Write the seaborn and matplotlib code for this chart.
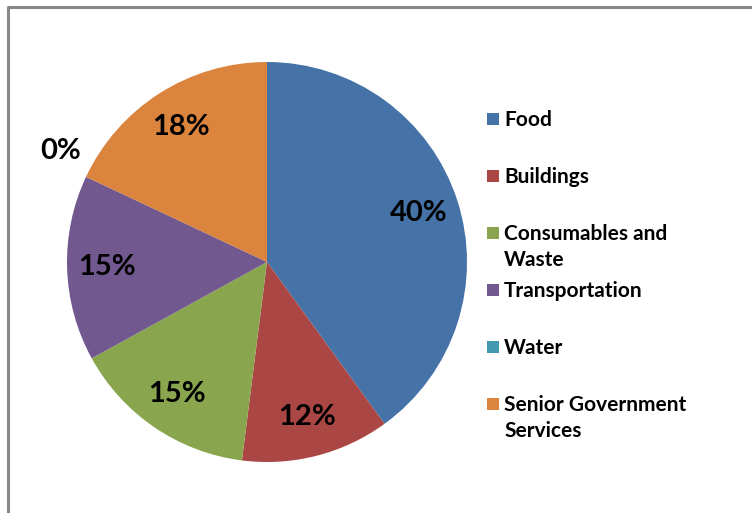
import numpy as np
import matplotlib
matplotlib.use("Agg")
import matplotlib.pyplot as plt
import matplotlib.patches as mpatches
from matplotlib.lines import Line2D
import seaborn as sns

# Share of the footprint by sector (%)
categories = ["Food", "Buildings", "Consumables and\nWaste", "Transportation",
              "Water", "Senior Government\nServices"]
shares = [40, 12, 15, 15, 0, 18]
colors = ["#4572A7", "#AA4643", "#89A54E", "#71588F", "#4198AF", "#DB843D"]

sns.set_theme(style="white")
plt.rcParams["font.family"] = ["Lato", "DejaVu Sans"]

W, H = 752, 513
fig = plt.figure(figsize=(W / 100, H / 100), dpi=100)
fig.patch.set_facecolor("white")

# Pie: centre (267, 262) px, radius 200 px
cx, cy, r = 267, 262, 200
ax = fig.add_axes([(cx - r) / W, (H - cy - r) / H, 2 * r / W, 2 * r / H])
palette = sns.color_palette(colors)
wedges, texts, autotexts = ax.pie(
    shares, colors=palette, startangle=90, counterclock=False,
    autopct=lambda p: f"{p:.0f}%", pctdistance=0.8, radius=1,
    wedgeprops=dict(linewidth=0),
    textprops=dict(fontsize=21, fontweight="bold", color="black"))
ax.set_xlim(-1, 1)
ax.set_ylim(-1, 1)
ax.set_aspect("equal")
ax.axis("off")

# Zero-size slices get their label pushed outside the pie
for w, t, v in zip(wedges, autotexts, shares):
    if v == 0:
        ang = np.deg2rad(w.theta1 - 3)
        t.set_position((1.17 * np.cos(ang), 1.17 * np.sin(ang)))

# Legend entries, one every 57 px, wrapped labels flow below
for i, (lab, col) in enumerate(zip(categories, palette)):
    y = 119 + 57 * i
    fig.patches.append(mpatches.Rectangle(
        (487 / W, (H - y - 6) / H), 12 / W, 12 / H,
        transform=fig.transFigure, facecolor=col, edgecolor="none"))
    fig.text(504 / W, (H - y + 9) / H, lab, fontsize=15, fontweight="bold",
             color="black", va="top", ha="left", linespacing=1.4)

# Frame around the chart area
fig.lines.append(Line2D([8 / W, 8 / W, 1.0], [0.0, (H - 7) / H, (H - 7) / H],
                        transform=fig.transFigure, color="#878787", linewidth=2.2))

fig.savefig("out.png", dpi=100, facecolor="white")
